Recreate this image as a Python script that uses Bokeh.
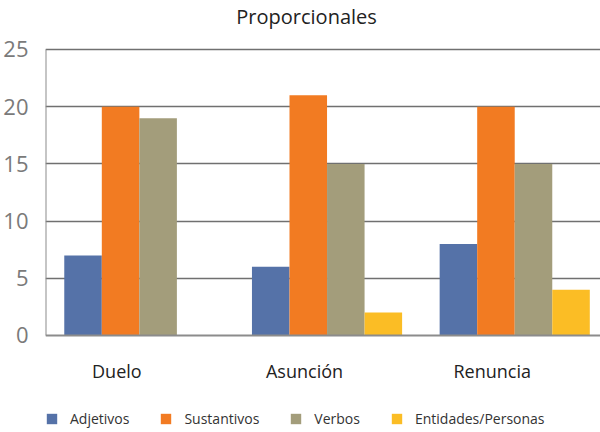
from bokeh.plotting import figure
from bokeh.models import Range1d, FixedTicker, Legend, LegendItem, Span
from bokeh.embed import file_html
from bokeh.resources import INLINE
from bokeh.core.properties import value

categories = ["Duelo", "Asunción", "Renuncia"]
series = ["Adjetivos", "Sustantivos", "Verbos", "Entidades/Personas"]
adjetivos = [7, 6, 8]
sustantivos = [20, 21, 20]
verbos = [19, 15, 15]
entidades = [0, 2, 4]
colors = ["#5572a8", "#f27b22", "#a39d7b", "#fbbd25"]
y_ticks = [0, 5, 10, 15, 20, 25]
title_text = "Proporcionales"

values = [adjetivos, sustantivos, verbos, entidades]
FONT = "Open Sans"

# frame covers the whole canvas right of the y-axis labels; extra room
# above and below the value range holds the title, labels and legend
p = figure(width=600, height=432,
           output_backend="svg", toolbar_location=None,
           x_range=Range1d(0, 2.957), y_range=Range1d(-8.479, 29.283),
           min_border_left=36, min_border_right=0, min_border_top=0,
           min_border_bottom=0)
p.outline_line_color = None
p.xaxis.visible = False

bar_w = 0.2
items = []
for j, (name, vals, col) in enumerate(zip(series, values, colors)):
    xs = [i + 0.2 + bar_w * j for i in range(len(categories))]
    r = p.vbar(x=xs, top=vals, bottom=0, width=bar_w, fill_color=col,
               line_color=None)
    items.append(LegendItem(label=name, renderers=[r]))

# grid
p.xgrid.grid_line_color = None
p.ygrid.ticker = FixedTicker(ticks=y_ticks[1:])
p.ygrid.grid_line_color = "#707070"
p.ygrid.grid_line_width = 1.6
p.ygrid.level = "underlay"

# axis lines
p.add_layout(Span(location=0, dimension="width", line_color="#8c8c8c",
                  line_width=2))
p.segment(x0=[0], y0=[y_ticks[0]], x1=[0], y1=[y_ticks[-1]],
          line_color="#8c8c8c", line_width=2)

# y axis labels
ya = p.yaxis[0]
ya.ticker = FixedTicker(ticks=y_ticks)
ya.axis_line_color = None
ya.major_tick_line_color = None
ya.minor_tick_line_color = None
ya.major_label_text_font = FONT
ya.major_label_text_font_size = "22px"
ya.major_label_text_color = "#7a7a7a"
ya.major_label_standoff = 11

# category labels
label_pos = [i + 0.38 for i in range(len(categories))]
p.text(x=label_pos, y=[-3.06] * len(categories), text=categories,
       text_font=value(FONT), text_font_size="18px", text_color="#222222",
       text_align="center", text_baseline="middle")

# title
p.text(x=[1.391], y=[27.885], text=[title_text],
       text_font=value(FONT), text_font_size="20px", text_color="#222222",
       text_align="center", text_baseline="middle")

legend = Legend(items=items, orientation="horizontal", location=(0, 4),
                glyph_width=13, glyph_height=13, label_standoff=12,
                spacing=30, padding=0, margin=0,
                border_line_color=None, background_fill_alpha=0,
                label_text_font=FONT, label_text_font_size="14px",
                label_text_color="#333333")
p.add_layout(legend, "center")

open("out.html", "w").write(file_html(p, INLINE))
